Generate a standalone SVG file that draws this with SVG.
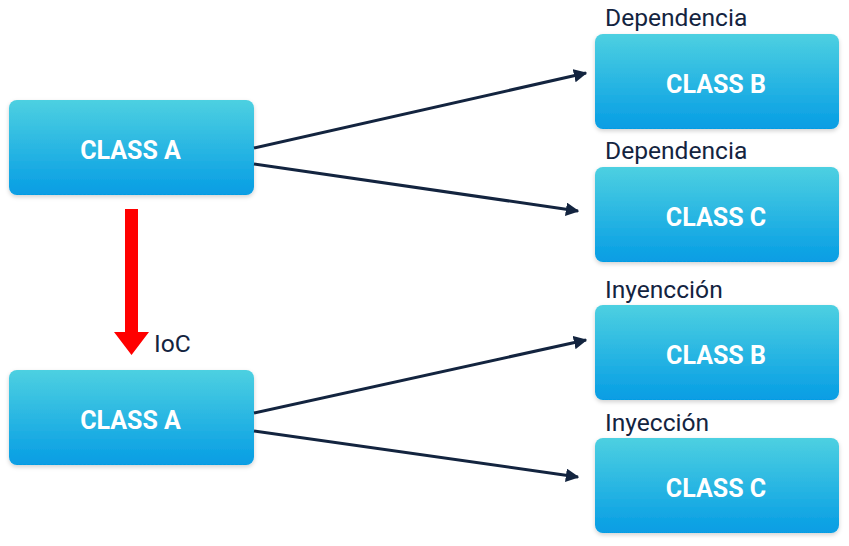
<svg xmlns="http://www.w3.org/2000/svg" width="849" height="546" viewBox="0 0 849 546">
<defs>
<linearGradient id="g" x1="0" y1="0" x2="0" y2="1">
<stop offset="0" stop-color="#4dd0e1"/>
<stop offset="1" stop-color="#069de4"/>
</linearGradient>
<filter id="sh" x="-10%" y="-10%" width="120%" height="130%">
<feDropShadow dx="0" dy="2" stdDeviation="2" flood-color="#000" flood-opacity="0.18"/>
</filter>
<marker id="ah" viewBox="0 0 10 10" refX="9" refY="5" markerWidth="4.5" markerHeight="4.5" orient="auto" markerUnits="strokeWidth">
<path d="M0,0 L10,5 L0,10 z" fill="#13243f"/>
</marker>
</defs>
<style>
.box{fill:url(#g);filter:url(#sh)}
.t{font-family:Roboto,"Liberation Sans",sans-serif;font-weight:bold;font-size:25px;fill:#fff;text-anchor:middle}
.l{font-family:Roboto,"Liberation Sans",sans-serif;font-size:24.6px;fill:#13243f}
.c{stroke:#13243f;stroke-width:3;fill:none;marker-end:url(#ah)}
</style>
<rect width="849" height="546" fill="#fff"/>
<g id="classA1"><rect class="box" x="9" y="100" width="245" height="95" rx="8"/><text class="t" x="130.5" y="159">CLASS A</text></g>
<g id="classA2"><rect class="box" x="9" y="370" width="245" height="95" rx="8"/><text class="t" x="130.5" y="429">CLASS A</text></g>
<g id="classB1"><rect class="box" x="595" y="34" width="244" height="95" rx="8"/><text class="t" x="716" y="93">CLASS B</text><text class="l" x="605" y="26">Dependencia</text></g>
<g id="classC1"><rect class="box" x="595" y="167" width="244" height="95" rx="8"/><text class="t" x="716" y="226">CLASS C</text><text class="l" x="605" y="159">Dependencia</text></g>
<g id="classB2"><rect class="box" x="595" y="305" width="244" height="95" rx="8"/><text class="t" x="716" y="364">CLASS B</text><text class="l" x="605" y="298">Inyencción</text></g>
<g id="classC2"><rect class="box" x="595" y="438" width="244" height="95" rx="8"/><text class="t" x="716" y="497">CLASS C</text><text class="l" x="605" y="431">Inyección</text></g>
<g id="connectors">
<line class="c" x1="254" y1="148" x2="586" y2="73"/>
<line class="c" x1="254" y1="164" x2="578" y2="211"/>
<line class="c" x1="254" y1="413" x2="586" y2="340"/>
<line class="c" x1="254" y1="431" x2="578" y2="477"/>
<path d="M125,209 H138 V332 H149 L131.5,355 L114,332 H125 Z" fill="#ff0000"/>
<text class="l" x="154" y="352">IoC</text>
</g>
</svg>
